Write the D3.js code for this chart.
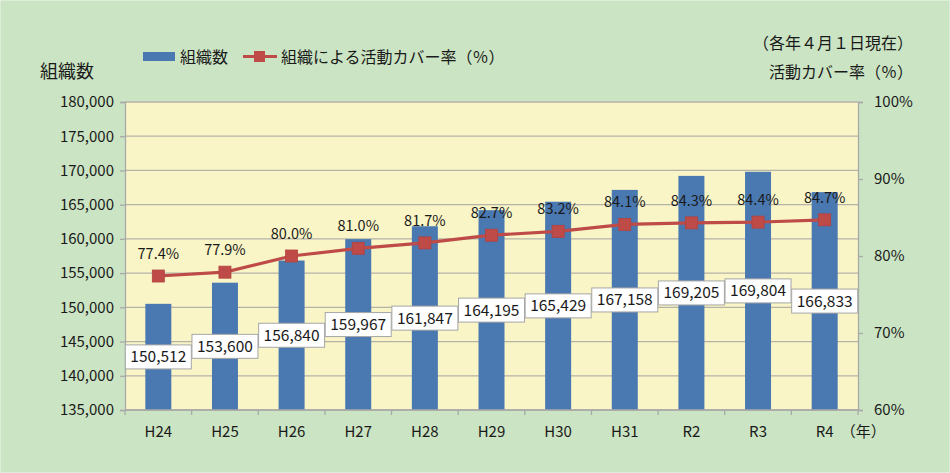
<!DOCTYPE html>
<html><head><meta charset="utf-8">
<script src="https://cdn.jsdelivr.net/npm/d3@7"></script>
<style>
html,body{margin:0;padding:0;background:#cbe4c3;}
svg{display:block;}
text{font-family:"Noto Sans CJK JP","Noto Sans",sans-serif;fill:#1a1a1a;}
</style></head>
<body><svg id="c" width="950" height="473"></svg>
<script>
const categories = ["H24","H25","H26","H27","H28","H29","H30","H31","R2","R3","R4"];
const orgCounts = [150512,153600,156840,159967,161847,164195,165429,167158,169205,169804,166833];
const coverage = [77.4,77.9,80.0,81.0,81.7,82.7,83.2,84.1,84.3,84.4,84.7];
const leftTicks = [135000,140000,145000,150000,155000,160000,165000,170000,175000,180000];
const rightTicks = [60,70,80,90,100];

const svg = d3.select("#c");
const W = 950, H = 473;
const m = {left:125, right:858, top:102, bottom:410};

svg.append("rect").attr("x",0).attr("y",0).attr("width",W).attr("height",H)
  .attr("fill","#cbe4c3").attr("stroke","#e4efe0").attr("stroke-width",1.5);

const x = d3.scaleBand().domain(categories).range([m.left,m.right]).paddingInner(0.61).paddingOuter(0.305);
const xb = d3.scaleBand().domain(categories).range([m.left,m.right]);
const y = d3.scaleLinear().domain([135000,180000]).range([m.bottom,m.top]);
const y2 = d3.scaleLinear().domain([60,100]).range([m.bottom,m.top]);

// plot background
svg.append("rect").attr("x",m.left).attr("y",m.top).attr("width",m.right-m.left).attr("height",m.bottom-m.top)
  .attr("fill","#f9f5c6");

// gridlines
svg.append("g").selectAll("line").data(leftTicks).join("line")
  .attr("x1",m.left).attr("x2",m.right).attr("y1",d=>y(d)).attr("y2",d=>y(d))
  .attr("stroke","#b5b3a8").attr("stroke-width",1.3);

// bars
svg.append("g").selectAll("rect").data(orgCounts).join("rect")
  .attr("x",(d,i)=>x(categories[i])).attr("width",x.bandwidth())
  .attr("y",d=>y(d)).attr("height",d=>m.bottom-y(d))
  .attr("fill","#4a78b1");

// left axis
const la = svg.append("g").attr("transform",`translate(${m.left},0)`)
  .call(d3.axisLeft(y).tickValues(leftTicks).tickFormat(d3.format(",")).tickSize(5).tickPadding(6));
la.select(".domain").attr("stroke","#a9a9a9").attr("stroke-width",1.3);
la.selectAll(".tick line").attr("stroke","#a9a9a9").attr("stroke-width",1.3);
la.selectAll("text").attr("font-size",15).attr("fill","#1a1a1a")
  .style("font-family",'"Noto Sans CJK JP","Noto Sans",sans-serif');

// right axis
const ra = svg.append("g").attr("transform",`translate(${m.right},0)`)
  .call(d3.axisRight(y2).tickValues(rightTicks).tickFormat(d=>d+"%").tickSize(5).tickPadding(11));
ra.select(".domain").attr("stroke","#a9a9a9").attr("stroke-width",1.3);
ra.selectAll(".tick line").attr("stroke","#a9a9a9").attr("stroke-width",1.3);
ra.selectAll("text").attr("font-size",15).attr("fill","#1a1a1a")
  .style("font-family",'"Noto Sans CJK JP","Noto Sans",sans-serif');

// bottom axis
const ba = svg.append("g").attr("transform",`translate(0,${m.bottom})`);
ba.append("line").attr("x1",m.left).attr("x2",m.right).attr("stroke","#a9a9a9").attr("stroke-width",1.3);
const bounds = categories.map(c=>xb(c)).concat([m.right]);
ba.selectAll("line.t").data(bounds).join("line").attr("class","t")
  .attr("x1",d=>d).attr("x2",d=>d).attr("y1",0).attr("y2",5)
  .attr("stroke","#a9a9a9").attr("stroke-width",1.3);
ba.selectAll("text.c").data(categories).join("text").attr("class","c")
  .attr("x",d=>xb(d)+xb.bandwidth()/2).attr("y",27).attr("text-anchor","middle")
  .attr("font-size",15).text(d=>d);
svg.append("text").attr("x",xb("R4")+xb.bandwidth()/2+16).attr("y",m.bottom+27)
  .attr("font-size",15).text("（年）");

// line
const line = d3.line().x((d,i)=>xb(categories[i])+xb.bandwidth()/2).y(d=>y2(d));
svg.append("path").datum(coverage).attr("d",line).attr("fill","none")
  .attr("stroke","#be4b48").attr("stroke-width",3.2);
svg.append("g").selectAll("rect").data(coverage).join("rect")
  .attr("x",(d,i)=>xb(categories[i])+xb.bandwidth()/2-6).attr("y",d=>y2(d)-6)
  .attr("width",12).attr("height",12).attr("fill","#be4b48").attr("stroke","#b3413f").attr("stroke-width",0.8);

// percentage labels
svg.append("g").selectAll("text").data(coverage).join("text")
  .attr("x",(d,i)=>xb(categories[i])+xb.bandwidth()/2).attr("y",d=>y2(d)-17)
  .attr("text-anchor","middle").attr("font-size",14.5).text(d=>d.toFixed(1)+"%");

// bar value labels (centered in bar)
const lg = svg.append("g");
orgCounts.forEach((d,i)=>{
  const cx = xb(categories[i])+xb.bandwidth()/2;
  const cy = (y(d)+m.bottom)/2;
  const bw = 66, bh = 24;
  lg.append("rect").attr("x",cx-bw/2).attr("y",cy-bh/2).attr("width",bw).attr("height",bh)
    .attr("fill","#ffffff").attr("stroke","#a6a6a6").attr("stroke-width",1);
  lg.append("text").attr("x",cx).attr("y",cy+5.5).attr("text-anchor","middle")
    .attr("font-size",15.5).text(d3.format(",")(d));
});

// titles
svg.append("text").attr("x",40).attr("y",78).attr("font-size",18).text("組織数");
svg.append("text").attr("x",913).attr("y",49).attr("text-anchor","end").attr("font-size",16).text("（各年４月１日現在）");
svg.append("text").attr("x",913).attr("y",78).attr("text-anchor","end").attr("font-size",16).text("活動カバー率（％）");

// legend
svg.append("rect").attr("x",143).attr("y",52).attr("width",32).attr("height",9).attr("fill","#4a78b1");
svg.append("text").attr("x",180).attr("y",63).attr("font-size",16).text("組織数");
svg.append("line").attr("x1",243).attr("x2",277).attr("y1",56.5).attr("y2",56.5).attr("stroke","#be4b48").attr("stroke-width",3.2);
svg.append("rect").attr("x",254).attr("y",51).attr("width",11).attr("height",11).attr("fill","#be4b48");
svg.append("text").attr("x",281).attr("y",63).attr("font-size",16).text("組織による活動カバー率（％）");
</script></body></html>
